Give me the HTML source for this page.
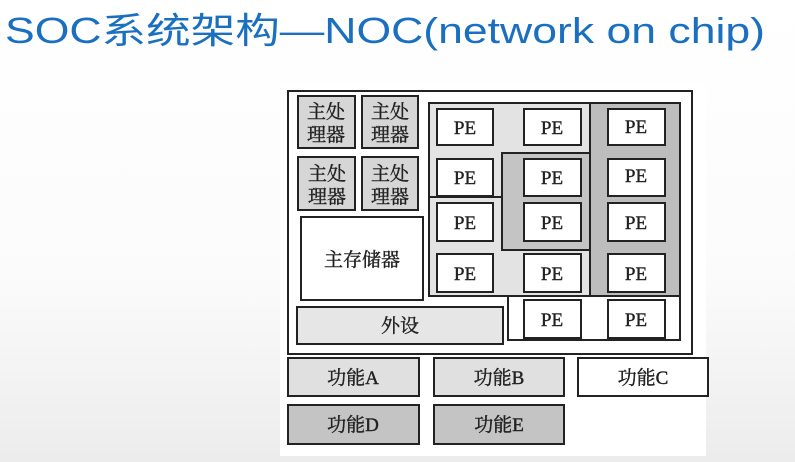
<!DOCTYPE html>
<html><head><meta charset="utf-8"><style>
html,body{margin:0;padding:0;width:795px;height:462px;overflow:hidden}
body{background:linear-gradient(#ffffff 0%,#fbfbfb 60%,#ececec 100%)}
svg{position:absolute;left:0;top:0}
</style></head><body>
<svg width="795" height="462" viewBox="0 0 795 462" font-family="'Liberation Serif','Noto Serif CJK SC',serif">
<text x="5" y="43" font-family="'Liberation Sans','Noto Sans CJK SC',sans-serif" font-size="36" fill="#1a6fc0" textLength="760" lengthAdjust="spacingAndGlyphs">SOC系统架构—NOC(network on chip)</text>
<rect x="280" y="82" width="426" height="374" fill="#fff"/>
<g stroke="#222" stroke-width="2">
<rect x="288" y="91" width="404" height="263" fill="#fff"/>
<rect x="298" y="96" width="57" height="52" fill="#d6d6d6"/>
<rect x="362" y="96" width="56" height="52" fill="#d6d6d6"/>
<rect x="298" y="157" width="57" height="53" fill="#d6d6d6"/>
<rect x="362" y="157" width="56" height="53" fill="#d6d6d6"/>
<rect x="301" y="217" width="122" height="83" fill="#fff"/>
<rect x="297" y="307" width="206" height="37" fill="#e6e6e6"/>
<rect x="429" y="103" width="251" height="193" fill="#e3e3e3"/>
<rect x="590" y="103" width="90" height="193" fill="#bdbdbd"/>
<rect x="502" y="153" width="88" height="97" fill="#c4c4c4"/>
<line x1="429" y1="197" x2="502" y2="197"/>
<rect x="508" y="296" width="172" height="44" fill="#fff"/>
<rect x="288" y="358" width="131" height="38" fill="#e0e0e0"/>
<rect x="434" y="358" width="130" height="38" fill="#e0e0e0"/>
<rect x="578" y="358" width="130" height="38" fill="#fff"/>
<rect x="288" y="405" width="131" height="39" fill="#c4c4c4"/>
<rect x="434" y="405" width="130" height="39" fill="#c4c4c4"/>
<g fill="#fff">
<rect x="437" y="109" width="56" height="36"/><rect x="524" y="109" width="57" height="36"/><rect x="608" y="109" width="57" height="36"/>
<rect x="437" y="159" width="56" height="37"/><rect x="524" y="159" width="57" height="37"/><rect x="608" y="159" width="57" height="37"/>
<rect x="437" y="203" width="56" height="38"/><rect x="524" y="203" width="57" height="38"/><rect x="608" y="203" width="57" height="38"/>
<rect x="437" y="254" width="56" height="38"/><rect x="524" y="254" width="57" height="38"/><rect x="608" y="254" width="57" height="38"/>
<rect x="524" y="300" width="57" height="38"/><rect x="608" y="300" width="57" height="38"/>
</g>
</g>
<g font-size="19" fill="#222" stroke="#222" stroke-width="0.4" text-anchor="middle">
<text x="326" y="118">主处</text><text x="326" y="141">理器</text>
<text x="390" y="118">主处</text><text x="390" y="141">理器</text>
<text x="327" y="180">主处</text><text x="327" y="203">理器</text>
<text x="390" y="180">主处</text><text x="390" y="203">理器</text>
<text x="362" y="266">主存储器</text>
<text x="400" y="332">外设</text>
<text x="465" y="134">PE</text><text x="552" y="134">PE</text><text x="636" y="133">PE</text>
<text x="465" y="184">PE</text><text x="552" y="184">PE</text><text x="636" y="182">PE</text>
<text x="465" y="229">PE</text><text x="552" y="229">PE</text><text x="636" y="229">PE</text>
<text x="465" y="280">PE</text><text x="552" y="280">PE</text><text x="636" y="280">PE</text>
<text x="552" y="326">PE</text><text x="636" y="326">PE</text>
<text x="353" y="384">功能A</text><text x="499" y="384">功能B</text><text x="643" y="384">功能C</text>
<text x="353" y="431">功能D</text><text x="499" y="431">功能E</text>
</g>
</svg>
</body></html>
